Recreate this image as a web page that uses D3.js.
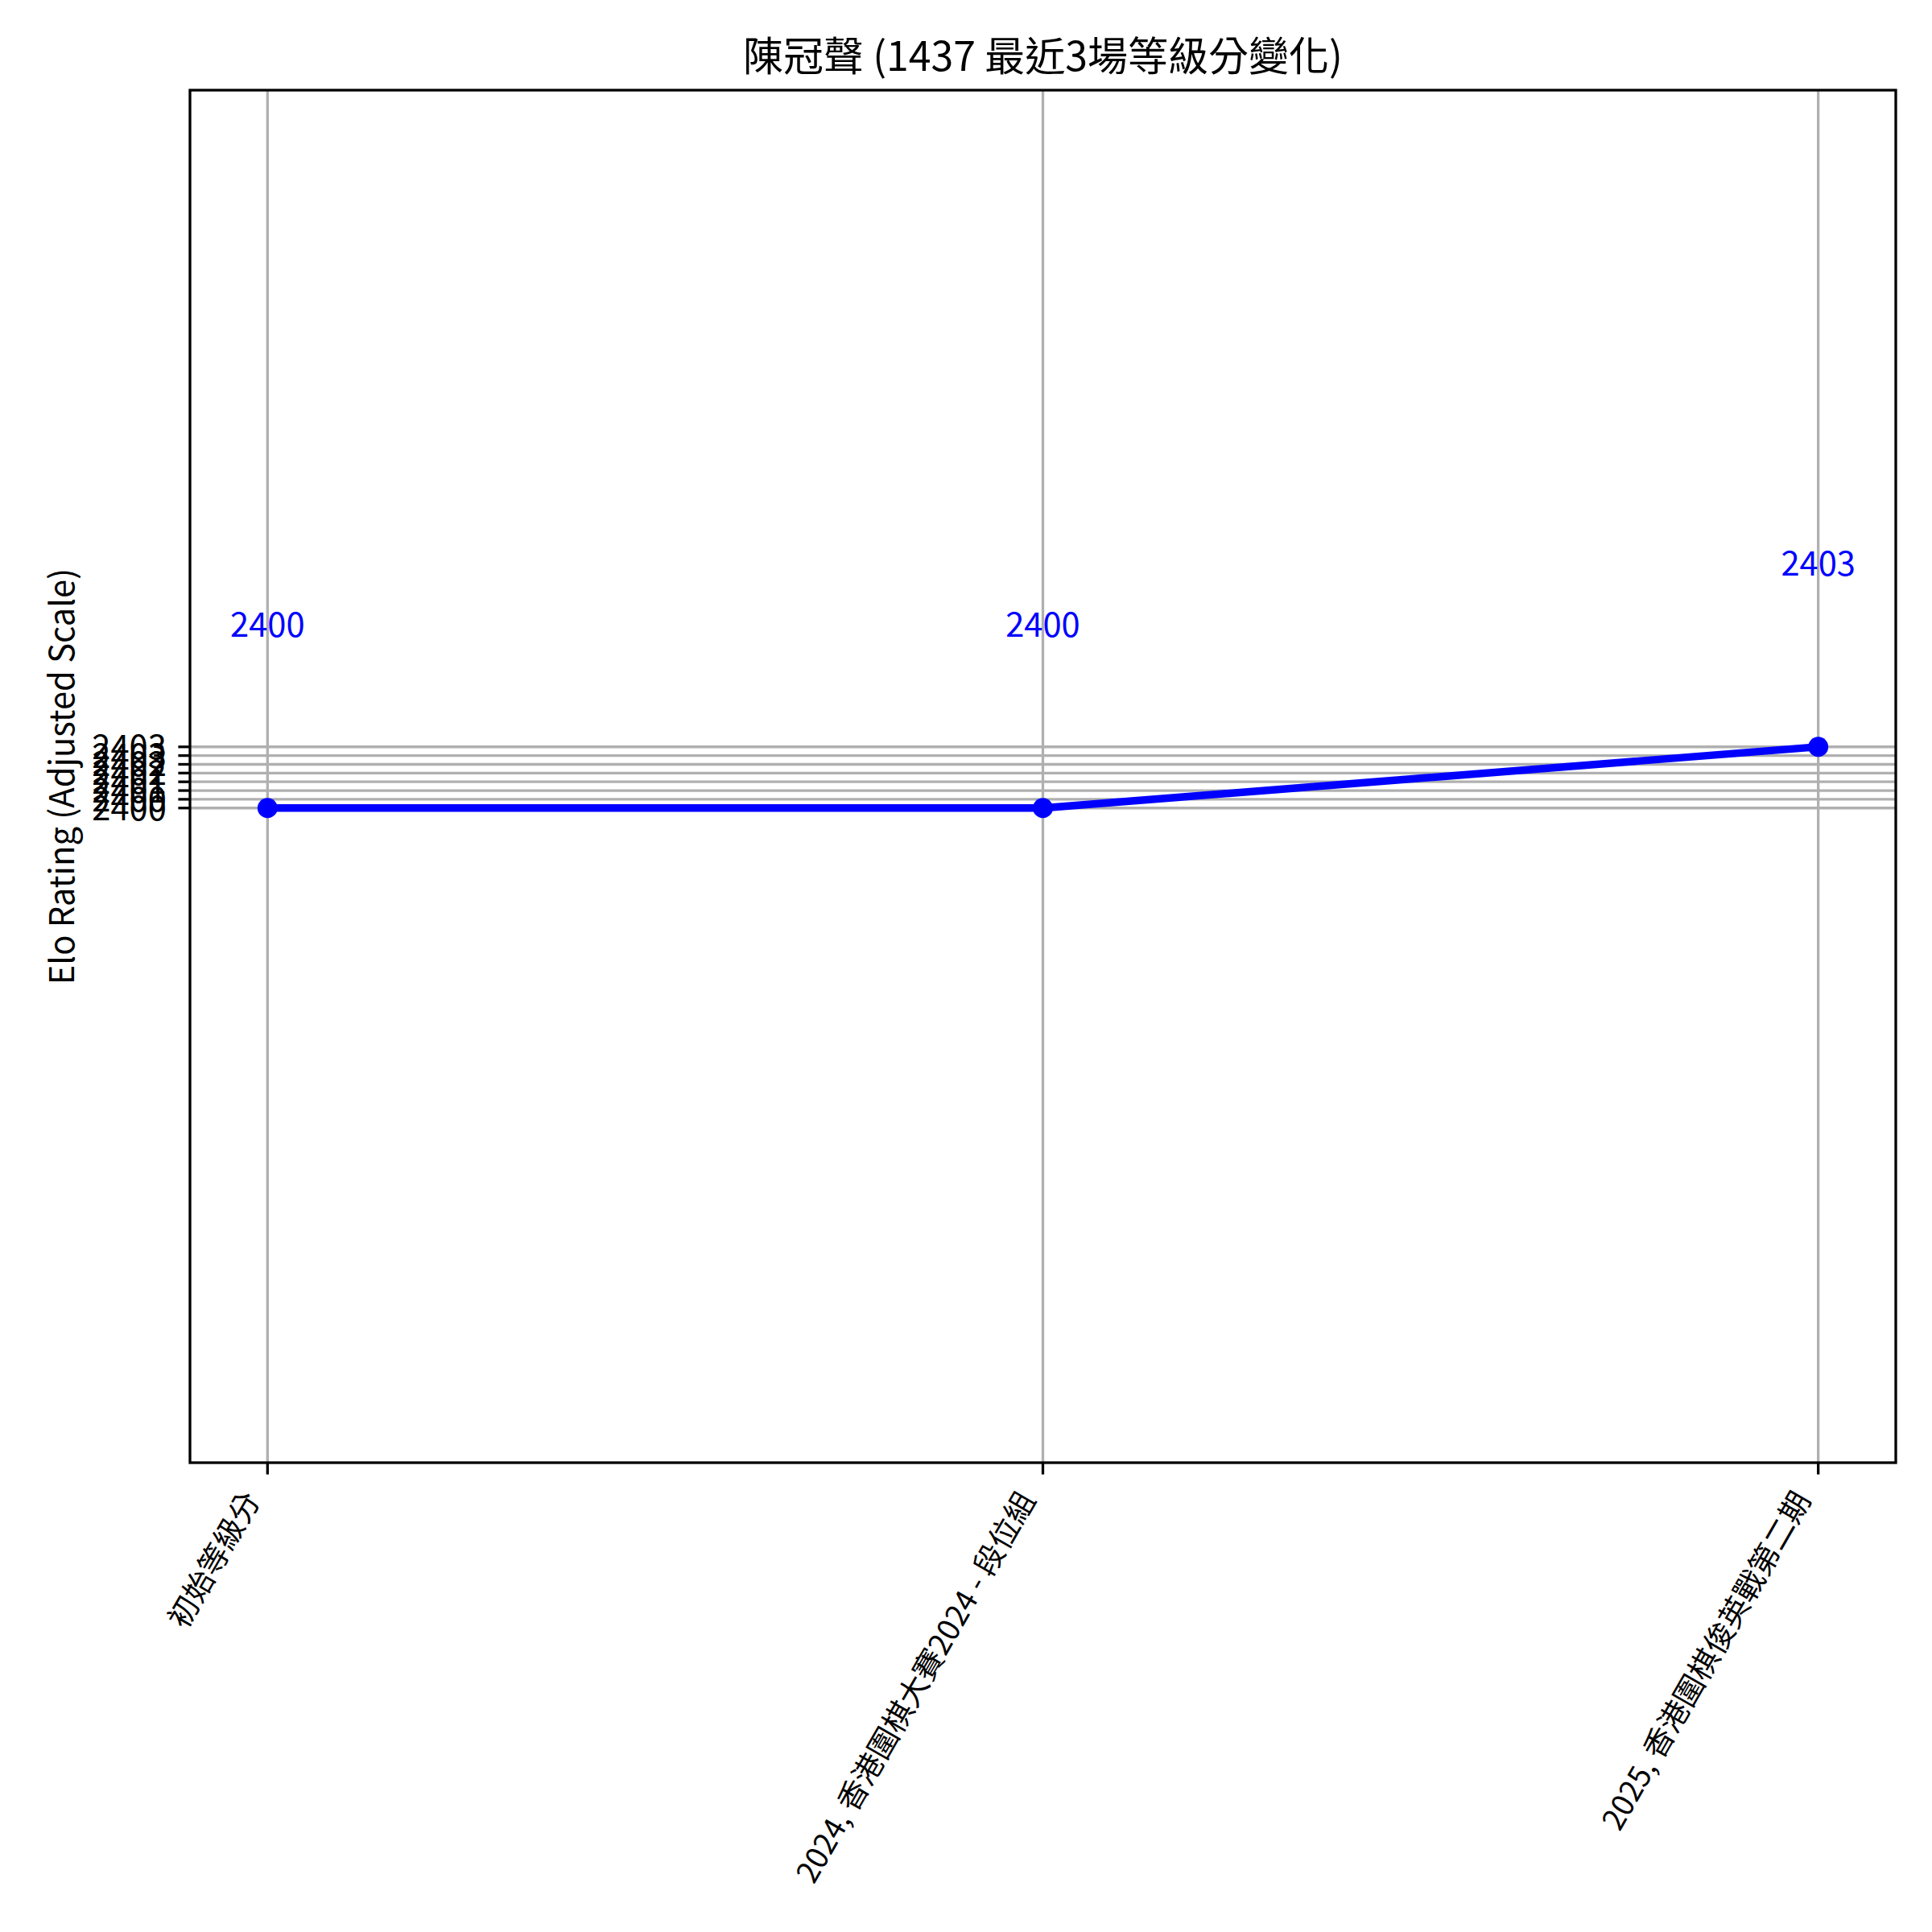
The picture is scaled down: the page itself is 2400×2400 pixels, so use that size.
<!DOCTYPE html>
<html>
<head>
<meta charset="utf-8">
<script src="https://cdn.jsdelivr.net/npm/d3@7"></script>
<style>
  html, body { margin: 0; padding: 0; background: #fff; }
  text { font-family: "Noto Sans CJK TC", "Noto Sans CJK SC", "Noto Sans", sans-serif; }
</style>
</head>
<body>
<script>
// ---- data ----
const categories = ["初始等級分", "2024, 香港圍棋大賽2024 - 段位組", "2025, 香港圍棋俊英戰第二期"];
const ratings = [2400, 2400, 2403];
const pointLabels = ["2400", "2400", "2403"];
const yTickValues = [2400, 2400.4286, 2400.8571, 2401.2857, 2401.7143, 2402.1429, 2402.5714, 2403];
const yTickLabels = ["2400", "2400", "2401", "2401", "2402", "2402", "2403", "2403"];
const yDomain = [2367.9, 2435.2];
const titleText = "陳冠聲 (1437 最近3場等級分變化)";
const yLabelText = "Elo Rating (Adjusted Scale)";

// ---- layout ----
const W = 2400, H = 2400;
const m = { left: 236, top: 112, right: 2355, bottom: 1817 };
const fs = 41.67;
const xfs = 37.5;

const svg = d3.select("body").append("svg")
  .attr("width", W).attr("height", H)
  .style("display", "block");
svg.append("rect").attr("width", W).attr("height", H).attr("fill", "#fff");

const idx = d3.range(categories.length);
const x = d3.scaleLinear().domain([-0.1, categories.length - 1 + 0.1]).range([m.left, m.right]);
const y = d3.scaleLinear().domain(yDomain).range([m.bottom, m.top]);

const grid = svg.append("g");
grid.selectAll("line.vx").data(idx).enter().append("line")
  .attr("x1", d => x(d)).attr("x2", d => x(d))
  .attr("y1", m.top).attr("y2", m.bottom)
  .attr("stroke", "#b0b0b0").attr("stroke-width", 3.3);
grid.selectAll("line.hy").data(yTickValues).enter().append("line")
  .attr("x1", m.left).attr("x2", m.right)
  .attr("y1", d => y(d)).attr("y2", d => y(d))
  .attr("stroke", "#b0b0b0").attr("stroke-width", 3.3);

// line
const line = d3.line().x((d, i) => x(i)).y(d => y(d));
svg.append("path").datum(ratings)
  .attr("d", line).attr("fill", "none")
  .attr("stroke", "#0000ff").attr("stroke-width", 9.4)
  .attr("stroke-linejoin", "round").attr("stroke-linecap", "square");
svg.selectAll("circle.pt").data(ratings).enter().append("circle")
  .attr("cx", (d, i) => x(i)).attr("cy", d => y(d)).attr("r", 12.5)
  .attr("fill", "#0000ff");

// annotations
svg.selectAll("text.ann").data(ratings).enter().append("text")
  .attr("x", (d, i) => x(i)).attr("y", d => y(d) - 213)
  .attr("text-anchor", "middle").attr("font-size", fs)
  .attr("fill", "#0000ff")
  .text((d, i) => pointLabels[i]);

// spines
svg.append("rect")
  .attr("x", m.left).attr("y", m.top)
  .attr("width", m.right - m.left).attr("height", m.bottom - m.top)
  .attr("fill", "none").attr("stroke", "#000").attr("stroke-width", 3.3);

// y ticks
const yt = svg.append("g");
yt.selectAll("line").data(yTickValues).enter().append("line")
  .attr("x1", m.left - 14.6).attr("x2", m.left)
  .attr("y1", d => y(d)).attr("y2", d => y(d))
  .attr("stroke", "#000").attr("stroke-width", 3.3);
yt.selectAll("text").data(yTickValues).enter().append("text")
  .attr("x", m.left - 29.2).attr("y", d => y(d))
  .attr("dy", "0.36em")
  .attr("text-anchor", "end").attr("font-size", fs).attr("fill", "#000")
  .text((d, i) => yTickLabels[i]);

// x ticks
const xt = svg.append("g");
xt.selectAll("line").data(idx).enter().append("line")
  .attr("x1", d => x(d)).attr("x2", d => x(d))
  .attr("y1", m.bottom).attr("y2", m.bottom + 14.6)
  .attr("stroke", "#000").attr("stroke-width", 3.3);
const rot = 60;
const theta = rot * Math.PI / 180;
const desc = 0.25 * xfs, asc = 0.9 * xfs;
xt.selectAll("text").data(idx).enter().append("text")
  .attr("transform", d => {
    const tx = x(d) - desc * Math.sin(theta);
    const ty = m.bottom + 29.2 + asc * Math.cos(theta);
    return `translate(${tx},${ty}) rotate(${-rot})`;
  })
  .attr("text-anchor", "end").attr("font-size", xfs).attr("fill", "#000")
  .text(d => categories[d]);

// title
svg.append("text")
  .attr("x", (m.left + m.right) / 2).attr("y", 88)
  .attr("text-anchor", "middle").attr("font-size", 50).attr("fill", "#000")
  .text(titleText);

// y label
svg.append("text")
  .attr("transform", `translate(92,${(m.top + m.bottom) / 2}) rotate(-90)`)
  .attr("text-anchor", "middle").attr("font-size", fs).attr("fill", "#000")
  .text(yLabelText);
</script>
</body>
</html>
